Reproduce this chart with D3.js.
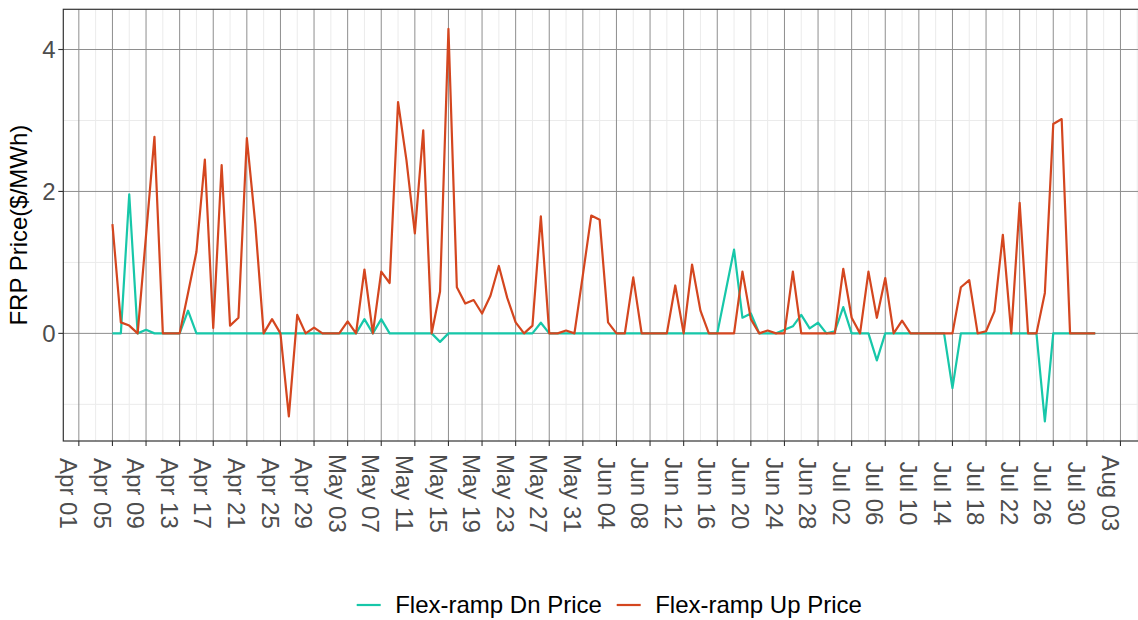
<!DOCTYPE html>
<html><head><meta charset="utf-8">
<script src="https://cdn.jsdelivr.net/npm/d3@7"></script>
<style>body{margin:0;background:#fff;} svg{display:block;font-family:"Liberation Sans",Arial,sans-serif;}</style>
</head><body>
<svg id="chart" width="1138" height="620"></svg>
<script>
// ---- data ----
const startDate = "2021-04-05"; // first observation, daily series
const upPrice = [1.54,0.155,0.11,0,1.38,2.77,0,0,0,0.57,1.15,2.45,0.075,2.37,0.11,0.22,2.75,1.55,0,0.2,
0,-1.17,0.26,0,0.08,0,0,0,0.17,0,0.9,0,0.87,0.71,3.26,2.44,1.41,2.86,0,0.59,
4.29,0.65,0.42,0.47,0.28,0.53,0.95,0.5,0.155,0,0.11,1.65,0,0,0.04,0,0.82,1.66,1.6,0.155,
0,0,0.79,0,0,0,0,0.675,0,0.97,0.32,0,0,0,0,0.87,0.2,0,0.04,0,
0,0.87,0,0,0,0,0,0.91,0.22,0,0.87,0.22,0.78,0,0.18,0,0,0,0,0,
0,0.65,0.75,0,0.03,0.31,1.39,0,1.84,0,0,0.57,2.95,3.02,0,0,0,0];
const dnPrice = [0,0,1.96,0,0.05,0,0,0,0,0.32,0,0,0,0,0,0,0,0,0,0,
0,0,0,0,0,0,0,0,0,0,0.2,0,0.2,0,0,0,0,0,0,-0.12,
0,0,0,0,0,0,0,0,0,0,0,0.15,0,0,0,0,0,0,0,0,
0,0,0,0,0,0,0,0,0,0,0,0,0,0.59,1.18,0.22,0.28,0,0,0,
0.05,0.1,0.26,0.07,0.15,0,0.03,0.37,0,0,0,-0.38,0,0,0,0,0,0,0,0,
-0.77,0,0,0,0,0,0,0,0,0,0,-1.24,0,0,0,0,0,0];
const seriesNames = ["Flex-ramp Dn Price","Flex-ramp Up Price"];
const seriesColors = ["#17C7A9","#D4461F"];
const xTickLabels = ["Apr 01","Apr 05","Apr 09","Apr 13","Apr 17","Apr 21","Apr 25","Apr 29","May 03","May 07","May 11","May 15","May 19","May 23","May 27","May 31","Jun 04","Jun 08","Jun 12","Jun 16","Jun 20","Jun 24","Jun 28","Jul 02","Jul 06","Jul 10","Jul 14","Jul 18","Jul 22","Jul 26","Jul 30","Aug 03"];
const yMajorTicks = [0,2,4];
const yMinorTicks = [-1,1,3];
const yTitle = "FRP Price($/MWh)";

// ---- build ----
const svg = d3.select("#chart");
const W = 1138;
const panel = {left:63.3, top:9.3, right:1144.4, bottom:441};
const parse = d3.utcParse("%Y-%m-%d");
const d0 = parse(startDate);
const dates = upPrice.map((_,i)=>d3.utcDay.offset(d0,i));
const year = d0.getUTCFullYear();
const parseTick = d3.utcParse("%Y %b %d");
const tickDates = xTickLabels.map(s=>parseTick(year+" "+s));

const [dmin,dmax] = d3.extent(dates);
const span = dmax - dmin;
const x = d3.scaleUtc().domain([new Date(+dmin - span*0.05), new Date(+dmax + span*0.05)]).range([panel.left, panel.right]);
const allV = upPrice.concat(dnPrice);
const [vmin,vmax] = d3.extent(allV);
const vr = vmax - vmin;
const y = d3.scaleLinear().domain([vmin - vr*0.05, vmax + vr*0.05]).range([panel.bottom, panel.top]);

const g = svg.append("g");
// minor grid
const xMinor = [];
for (let i=-1;i<tickDates.length;i++){
  const a = i<0 ? d3.utcDay.offset(tickDates[0],-4) : tickDates[i];
  xMinor.push(d3.utcDay.offset(a,2));
}
const pw = Math.min(panel.right, W+5);
g.selectAll(".vminor").data(xMinor.filter(d=>x(d)>panel.left && x(d)<panel.right)).join("line")
  .attr("x1",d=>x(d)).attr("x2",d=>x(d)).attr("y1",panel.top).attr("y2",panel.bottom)
  .attr("stroke","#ebebeb").attr("stroke-width",1);
g.selectAll(".hminor").data(yMinorTicks).join("line")
  .attr("x1",panel.left).attr("x2",pw).attr("y1",d=>y(d)).attr("y2",d=>y(d))
  .attr("stroke","#ebebeb").attr("stroke-width",1);
// major grid
g.selectAll(".vmajor").data(tickDates).join("line")
  .attr("x1",d=>x(d)).attr("x2",d=>x(d)).attr("y1",panel.top).attr("y2",panel.bottom)
  .attr("stroke","#8e8e8e").attr("stroke-width",1);
g.selectAll(".hmajor").data(yMajorTicks).join("line")
  .attr("x1",panel.left).attr("x2",pw).attr("y1",d=>y(d)).attr("y2",d=>y(d))
  .attr("stroke","#8e8e8e").attr("stroke-width",1);

// lines
const series = [dnPrice, upPrice];
const line = d3.line().x((d,i)=>x(dates[i])).y(d=>y(d));
series.forEach((s,k)=>{
  g.append("path").datum(s).attr("d",line).attr("fill","none")
   .attr("stroke",seriesColors[k]).attr("stroke-width",2.2).attr("stroke-linejoin","round");
});

// panel border
g.append("rect").attr("x",panel.left).attr("y",panel.top)
  .attr("width",panel.right-panel.left).attr("height",panel.bottom-panel.top)
  .attr("fill","none").attr("stroke","#333").attr("stroke-width",1.2);

// x axis ticks & labels
g.selectAll(".xt").data(tickDates).join("line")
  .attr("x1",d=>x(d)).attr("x2",d=>x(d)).attr("y1",panel.bottom).attr("y2",panel.bottom+5)
  .attr("stroke","#333").attr("stroke-width",1.1);
g.selectAll(".xl").data(tickDates).join("text")
  .attr("transform",d=>`translate(${x(d)-18.8},493.4) rotate(90)`)
  .attr("text-anchor","middle").attr("font-size",24).attr("fill","#4d4d4d")
  .text((d,i)=>xTickLabels[i]);

// y axis ticks & labels
g.selectAll(".yt").data(yMajorTicks).join("line")
  .attr("x1",panel.left-5).attr("x2",panel.left).attr("y1",d=>y(d)).attr("y2",d=>y(d))
  .attr("stroke","#333").attr("stroke-width",1.1);
g.selectAll(".yl").data(yMajorTicks).join("text")
  .attr("x",55.5).attr("y",d=>y(d)).attr("dy","0.36em")
  .attr("text-anchor","end").attr("font-size",24).attr("fill","#4d4d4d")
  .text(d=>d3.format("d")(d));
g.append("text").attr("transform",`translate(27.3,${(panel.top+panel.bottom)/2}) rotate(-90)`)
  .attr("text-anchor","middle").attr("font-size",24).attr("fill","#000").text(yTitle);

// legend
const legendX = [356.7, 616.7];
seriesNames.forEach((name,k)=>{
  g.append("line").attr("x1",legendX[k]).attr("x2",legendX[k]+24).attr("y1",605).attr("y2",605)
    .attr("stroke",seriesColors[k]).attr("stroke-width",2.2);
  g.append("text").attr("x",legendX[k]+38.5).attr("y",613.3).attr("font-size",24).attr("fill","#000").text(name);
});
</script>
</body></html>
